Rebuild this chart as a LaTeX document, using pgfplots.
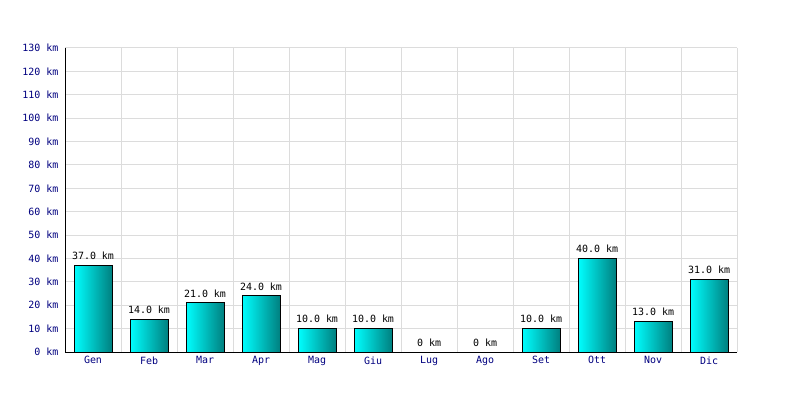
\documentclass[border=0pt]{standalone}
\usepackage{pgfplots}
\pgfplotsset{compat=1.18}
\usepackage{fontspec}
\setmainfont{DejaVu Sans Mono}
\definecolor{navytxt}{RGB}{0,0,128}
\definecolor{gridc}{RGB}{220,220,220}
\definecolor{barL}{RGB}{0,255,255}
\definecolor{barR}{RGB}{0,128,128}
\pgfplotsset{
  mybar/.style={ybar, bar width=38bp, draw=black, line width=1bp,
    left color=barL, right color=barR,
    point meta=explicit symbolic,
    nodes near coords,
    every node near coord/.append style={font=\fontsize{10}{12}\selectfont, text=black, anchor=south, inner sep=0pt, yshift=5bp}},
}
\begin{document}
\begin{tikzpicture}[x=1bp,y=1bp]
\useasboundingbox[fill=white] (0,0) rectangle (800,400);
\begin{axis}[
  at={(65bp,48bp)}, anchor=south west,
  scale only axis, width=672bp, height=304bp,
  xmin=-0.5, xmax=11.5, ymin=0, ymax=130,
  axis x line*=bottom, axis y line*=left,
  axis line style={-, black, line width=1bp},
  xtick={0,...,11},
  xticklabels={Gen,Feb,Mar,Apr,Mag,Giu,Lug,Ago,Set,Ott,Nov,Dic},
  minor xtick={-0.5,0.5,...,11.5},
  xminorgrids, ymajorgrids,
  minor grid style={gridc, line width=1bp},
  major grid style={gridc, line width=1bp},
  ytick={0,10,...,130},
  yticklabels={0 km,10 km,20 km,30 km,40 km,50 km,60 km,70 km,80 km,90 km,100 km,110 km,120 km,130 km},
  major tick length=0pt, minor tick length=0pt,
  tick label style={font=\fontsize{10}{12}\selectfont, text=navytxt},
  yticklabel style={xshift=-3bp},
  xticklabel style={yshift=-1bp},
  clip=false,
]
\draw[gridc, line width=1bp] (axis cs:-0.5,130) -- (axis cs:11.5,130);
\draw[gridc, line width=1bp] (axis cs:11.5,0) -- (axis cs:11.5,130);
\addplot[mybar] coordinates {(0,37) [37.0 km]};
\addplot[mybar] coordinates {(1,14) [14.0 km]};
\addplot[mybar] coordinates {(2,21) [21.0 km]};
\addplot[mybar] coordinates {(3,24) [24.0 km]};
\addplot[mybar] coordinates {(4,10) [10.0 km]};
\addplot[mybar] coordinates {(5,10) [10.0 km]};
\addplot[mybar] coordinates {(6,0) [0 km]};
\addplot[mybar] coordinates {(7,0) [0 km]};
\addplot[mybar] coordinates {(8,10) [10.0 km]};
\addplot[mybar] coordinates {(9,40) [40.0 km]};
\addplot[mybar] coordinates {(10,13) [13.0 km]};
\addplot[mybar] coordinates {(11,31) [31.0 km]};
\end{axis}
\end{tikzpicture}
\end{document}
